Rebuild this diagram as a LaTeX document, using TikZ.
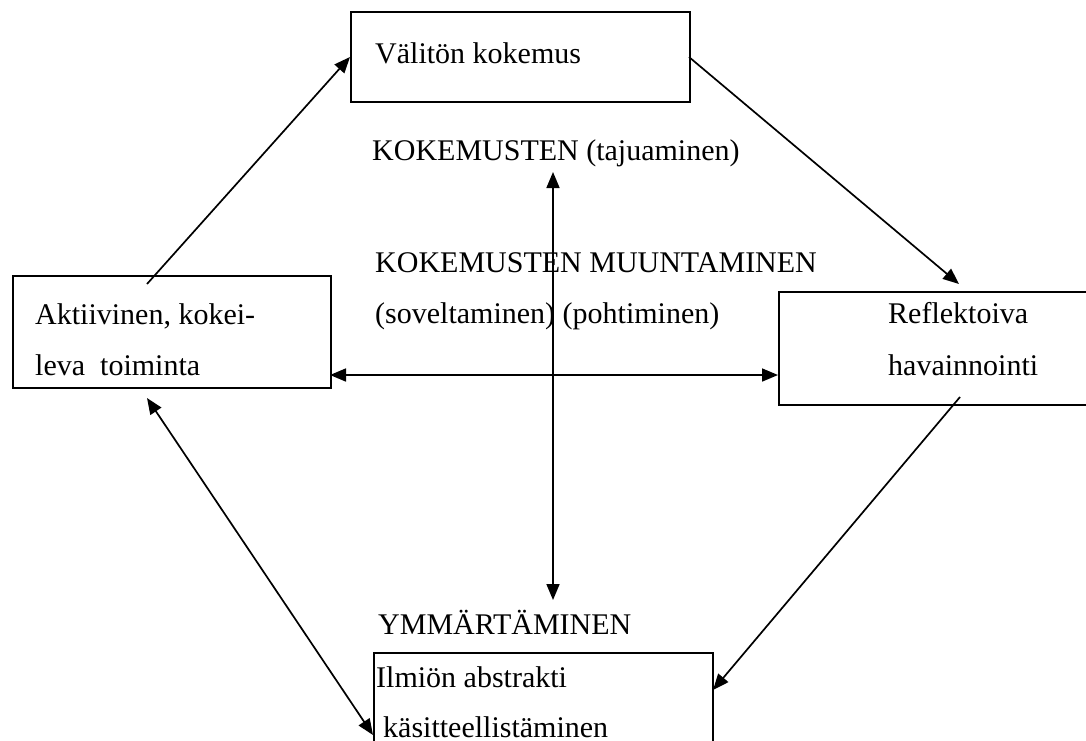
\documentclass[tikz,border=0pt]{standalone}
\usepackage{fontspec}
\setmainfont{Liberation Serif}
\usetikzlibrary{arrows.meta}
\begin{document}
\begin{tikzpicture}[x=1pt,y=-1pt,
  box/.style={draw, line width=1.8pt, inner sep=0pt, anchor=north west},
  lbl/.style={anchor=base west, inner sep=0pt, font=\fontsize{30}{36}\selectfont},
  tip/.tip={Triangle[length=16pt,width=13pt]},
  arr/.style={line width=1.7pt, -tip},
  darr/.style={line width=1.7pt, tip-tip}]
\useasboundingbox (0,0) rectangle (1086,740);
\clip (0,0) rectangle (1086,740);
% boxes
\node[box, minimum width=339pt, minimum height=90pt] (top) at (350,11) {};
\node[box, minimum width=318pt, minimum height=112pt] (left) at (12,275) {};
\node[box, minimum width=340pt, minimum height=113pt] (right) at (778,291) {};
\node[box, minimum width=339pt, minimum height=110pt] (bot) at (373,652) {};
% texts
\node[lbl] (t1) at (375,63) {Välitön kokemus};
\node[lbl] (t2) at (372,160) {KOKEMUSTEN (tajuaminen)};
\node[lbl] (t3) at (375,272) {KOKEMUSTEN MUUNTAMINEN};
\node[lbl] (t4) at (375,323) {(soveltaminen) (pohtiminen)};
\node[lbl] (t5) at (35,324) {Aktiivinen, kokei-};
\node[lbl] (t6) at (35,375) {leva\ \ toiminta};
\node[lbl] (t7) at (888,323) {Reflektoiva};
\node[lbl] (t8) at (888,375) {havainnointi};
\node[lbl] (t9) at (378,634) {YMMÄRTÄMINEN};
\node[lbl] (t10) at (376,687) {Ilmiön abstrakti};
\node[lbl] (t11) at (383,737) {käsitteellistäminen};
% connector end points
\coordinate (a1s) at (147,284);
\coordinate (a1e) at (350,57);
\coordinate (a2s) at (689,57);
\coordinate (a2e) at (959,284);
\coordinate (a3s) at (960,397);
\coordinate (a3e) at (713,690);
\coordinate (a4s) at (147,398);
\coordinate (a4e) at (373,735);
\coordinate (a5s) at (330,375);
\coordinate (a5e) at (778,375);
\coordinate (a6s) at (553,172);
\coordinate (a6e) at (553,600);
% connectors
\draw[arr] (a1s) -- (a1e);
\draw[arr] (a2s) -- (a2e);
\draw[arr] (a3s) -- (a3e);
\draw[darr] (a4s) -- (a4e);
\draw[darr] (a5s) -- (a5e);
\draw[darr] (a6s) -- (a6e);
\end{tikzpicture}
\end{document}
